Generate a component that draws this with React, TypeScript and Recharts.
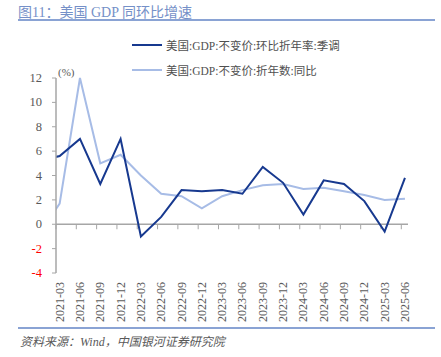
import { Line, LineChart, ReferenceLine, XAxis, YAxis } from "recharts";

// quarter labels; the first one sits just left of the visible axis
const quarters = [
  "2020-12", "2021-03", "2021-06", "2021-09", "2021-12", "2022-03", "2022-06", "2022-09", "2022-12",
  "2023-03", "2023-06", "2023-09", "2023-12", "2024-03", "2024-06", "2024-09", "2024-12", "2025-03", "2025-06",
];
// 美国:GDP:不变价:环比折年率:季调
const qoqAnnualized = [5.2, 5.6, 7.0, 3.3, 7.0, -1.0, 0.6, 2.8, 2.7, 2.8, 2.5, 4.7, 3.4, 0.8, 3.6, 3.3, 1.9, -0.6, 3.8];
// 美国:GDP:不变价:折年数:同比
const yoy = [-0.8, 1.7, 12.0, 5.0, 5.7, 4.0, 2.5, 2.3, 1.3, 2.3, 2.8, 3.2, 3.3, 2.9, 3.0, 2.7, 2.4, 2.0, 2.1];
const yTicks = [-4, -2, 0, 2, 4, 6, 8, 10, 12];

const data = quarters.map((q, i) => ({ idx: i - 1, quarter: q, qoq: qoqAnnualized[i], yoy: yoy[i] }));
const xTicks = data.filter((d) => d.idx >= 0).map((d) => d.idx);
const xDomain: [number, number] = [-0.18, 17.15];

const axisGray = "#a6a6a6";
const textGray = "#595959";
const serif = "'Liberation Serif', 'Noto Sans CJK SC', serif";

function XTick(props: any) {
  const { x, y, payload } = props;
  const label = quarters[payload.value + 1];
  return (
    <text
      x={x}
      y={y}
      transform={`rotate(-90, ${x}, ${y})`}
      textAnchor="end"
      dominantBaseline="central"
      fontSize={12}
      fontFamily={serif}
      fill={textGray}
    >
      {label}
    </text>
  );
}

function YTick(props: any) {
  const { x, y, payload } = props;
  return (
    <text
      x={x}
      y={y}
      textAnchor="end"
      dominantBaseline="central"
      fontSize={12.5}
      fontFamily={serif}
      fill={payload.value < 0 ? "#ff0000" : textGray}
    >
      {payload.value}
    </text>
  );
}

// zero line with the category tick marks hanging below it
function ZeroAxis(props: any) {
  const { x1, y1, x2 } = props;
  const unit = (x2 - x1) / (xDomain[1] - xDomain[0]);
  return (
    <g>
      <line x1={x1} y1={y1} x2={x2} y2={y1} stroke={axisGray} strokeWidth={1.5} />
      {xTicks.map((k) => (
        <line key={k} x1={x1 + k * unit} y1={y1} x2={x1 + k * unit} y2={y1 + 5} stroke={axisGray} strokeWidth={1} />
      ))}
    </g>
  );
}

function LegendRow({ color, label, top }: { color: string; label: string; top: number }) {
  return (
    <div style={{ position: "absolute", left: 132, top: top - 8, height: 16, display: "flex", alignItems: "center" }}>
      <div style={{ width: 30, height: 2.5, background: color, marginRight: 4 }} />
      <span style={{ fontSize: 11.5, fontFamily: serif, color: "#505050", whiteSpace: "nowrap" }}>{label}</span>
    </div>
  );
}

export default function App() {
  return (
    <div style={{ position: "fixed", left: 0, top: 0, width: 441, height: 357, background: "#fff", overflow: "hidden" }}>
      <div
        style={{
          position: "absolute",
          left: 18,
          top: 1,
          fontSize: 14,
          fontFamily: serif,
          color: "#7590c8",
          whiteSpace: "nowrap",
        }}
      >
        图11：美国 GDP 同环比增速
      </div>
      <div style={{ position: "absolute", left: 18, top: 19, width: 417, height: 1.5, background: "#8aa3d4" }} />

      <LineChart width={441} height={357} data={data} margin={{ top: 78, right: 33, bottom: 0, left: 0 }}>
        <XAxis
          dataKey="idx"
          type="number"
          domain={xDomain}
          allowDataOverflow
          ticks={xTicks}
          interval={0}
          axisLine={false}
          tickLine={false}
          tickSize={0}
          tickMargin={9}
          height={84}
          tick={<XTick />}
        />
        <YAxis
          type="number"
          domain={[-4, 12]}
          ticks={yTicks}
          interval={0}
          width={56}
          axisLine={{ stroke: axisGray, strokeWidth: 1.5 }}
          tickLine={{ stroke: axisGray }}
          tickSize={4}
          tickMargin={10}
          tick={<YTick />}
        />
        <ReferenceLine y={0} shape={<ZeroAxis />} />
        <Line
          dataKey="yoy"
          type="linear"
          stroke="#a7bce6"
          strokeWidth={2}
          dot={false}
          activeDot={false}
          isAnimationActive={false}
        />
        <Line
          dataKey="qoq"
          type="linear"
          stroke="#17398f"
          strokeWidth={2}
          dot={false}
          activeDot={false}
          isAnimationActive={false}
        />
      </LineChart>

      <div style={{ position: "absolute", left: 58, top: 66, fontSize: 11, fontFamily: serif, color: textGray }}>(%)</div>
      <LegendRow color="#17398f" label="美国:GDP:不变价:环比折年率:季调" top={45} />
      <LegendRow color="#a7bce6" label="美国:GDP:不变价:折年数:同比" top={70} />

      <div style={{ position: "absolute", left: 18, top: 327, width: 417, height: 1.5, background: "#8aa3d4" }} />
      <div
        style={{
          position: "absolute",
          left: 20,
          top: 332,
          fontSize: 12,
          fontStyle: "italic",
          fontFamily: serif,
          color: "#595959",
          whiteSpace: "nowrap",
        }}
      >
        资料来源：Wind，中国银河证券研究院
      </div>
    </div>
  );
}
